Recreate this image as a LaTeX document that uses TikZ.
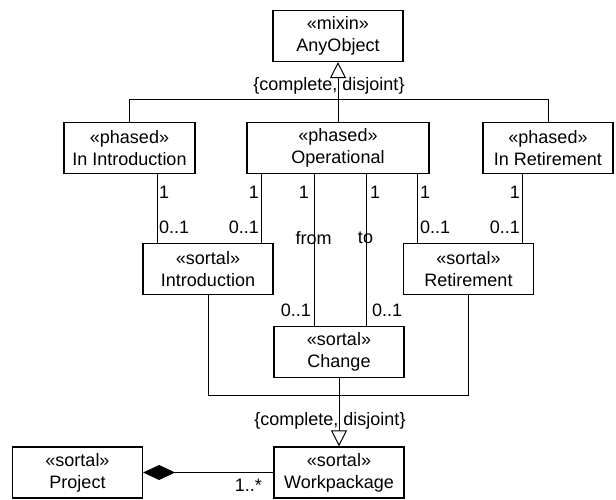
\documentclass[tikz,border=0pt]{standalone}
\usepackage{fontspec}
\setmainfont{Liberation Sans}
\usetikzlibrary{arrows.meta}
\begin{document}
\begin{tikzpicture}[x=1pt,y=-1pt,
  umlbox/.style={draw, line width=1.2pt, minimum width=130pt, minimum height=51pt,
    inner sep=0pt, align=center, font=\fontsize{18}{22}\selectfont},
  conn/.style={line width=1pt},
  lbl/.style={inner sep=0pt, font=\fontsize{18}{22}\selectfont},
  gen/.style={-{Triangle[open,length=16pt,width=16pt,line width=1pt]}},
  comp/.style={{Diamond[length=32pt,width=15pt]}-},
]
\useasboundingbox (0,0) rectangle (616,500);

% classes
\node[umlbox] (any) at (338,36) {«mixin»\\AnyObject};
\node[umlbox, minimum width=131pt] (inintro) at (129.5,148) {«phased»\\In Introduction};
\node[umlbox, minimum width=182pt] (oper) at (338,148) {«phased»\\Operational};
\node[umlbox] (inret) at (548,148) {«phased»\\In Retirement};
\node[umlbox] (intro) at (208,269) {«sortal»\\Introduction};
\node[umlbox] (ret) at (468.5,269) {«sortal»\\Retirement};
\node[umlbox] (change) at (339,352) {«sortal»\\Change};
\node[umlbox] (wp) at (339,472.5) {«sortal»\\Workpackage};
\node[umlbox] (project) at (77.5,472.5) {«sortal»\\Project};

% top generalization set
\coordinate (topj) at (338,100);
\draw[conn, gen] (topj) -- (any.south);
\draw[conn] (inintro.north) -- (inintro.north |- topj) -- (inret.north |- topj) -- (inret.north);
\draw[conn] (oper.north) -- (topj);
\node[lbl] (gs1) at (329,86) {\{complete, disjoint\}};

% associations
\draw[conn] (inintro.south -| 157,0) -- (intro.north -| 157,0);
\draw[conn] (oper.south -| 261,0) -- (intro.north -| 261,0);
\draw[conn] (oper.south -| 314,0) -- (change.north -| 314,0);
\draw[conn] (oper.south -| 366,0) -- (change.north -| 366,0);
\draw[conn] (oper.south -| 417,0) -- (ret.north -| 417,0);
\draw[conn] (inret.south -| 522,0) -- (ret.north -| 522,0);

% multiplicities
\node[lbl, anchor=west] (m1) at (159,192) {1};
\node[lbl, anchor=west] (m2) at (159,227) {0..1};
\node[lbl, anchor=east] (m3) at (259,192) {1};
\node[lbl, anchor=east] (m4) at (259,227) {0..1};
\node[lbl, anchor=east] (m5) at (309,192) {1};
\node[lbl, anchor=west] (m6) at (370,192) {1};
\node[lbl, anchor=west] (m7) at (420,192) {1};
\node[lbl, anchor=west] (m8) at (420,227) {0..1};
\node[lbl, anchor=east] (m9) at (520,192) {1};
\node[lbl, anchor=east] (m10) at (520,227) {0..1};
\node[lbl, anchor=east] (m11) at (311,310) {0..1};
\node[lbl, anchor=west] (m12) at (372,310) {0..1};
\node[lbl] (rfrom) at (313.5,238) {from};
\node[lbl] (rto) at (365.5,238) {to};

% bottom generalization set
\coordinate (botj) at (339,395);
\draw[conn] (intro.south) -- (intro.south |- botj) -- (ret.south |- botj) -- (ret.south);
\draw[conn] (change.south) -- (botj);
\draw[conn, gen] (botj) -- (wp.north);
\node[lbl] (gs2) at (330,421) {\{complete, disjoint\}};

% composition
\draw[conn, comp] (project.east) -- (wp.west);
\node[lbl, anchor=east] (m13) at (262,485) {1..*};
\end{tikzpicture}
\end{document}
